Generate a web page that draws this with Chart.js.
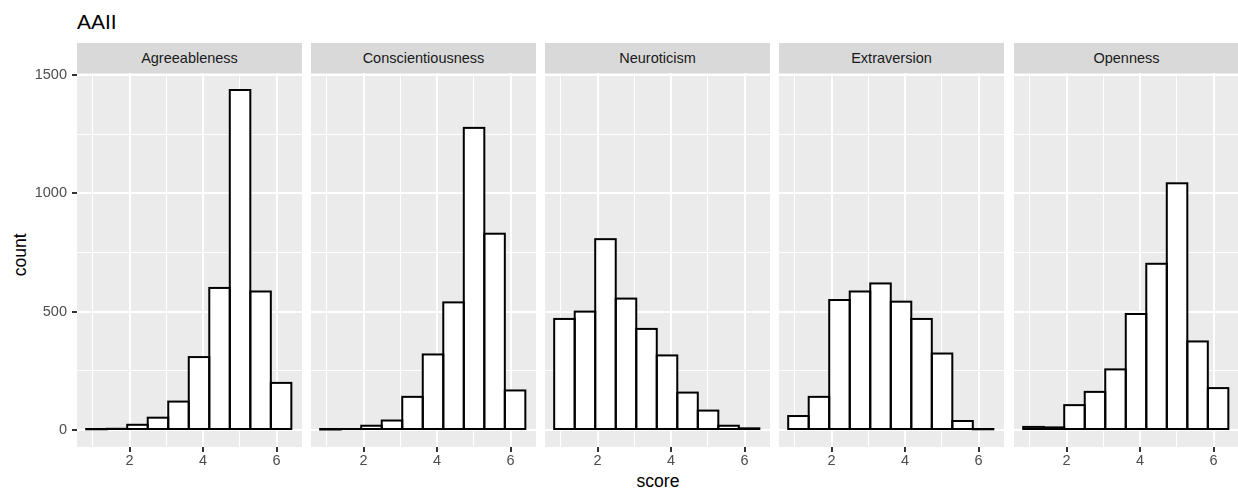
<!DOCTYPE html>
<html>
<head>
<meta charset="utf-8">
<script src="https://cdn.jsdelivr.net/npm/chart.js@4.4.1/dist/chart.umd.min.js"></script>
<style>
  html, body { margin: 0; padding: 0; background: #FFFFFF; }
  body { position: relative; width: 1238px; height: 495px; overflow: hidden; font-family: 'Liberation Sans', Arial, sans-serif; }
  .abs { position: absolute; }
  .title { left: 77px; top: 10.6px; font-size: 21px; line-height: 1; color: #000000; }
  .strip { top: 43px; height: 30px; line-height: 30px; background: #D9D9D9; color: #1A1A1A; font-size: 14.5px; text-align: center; }
  .xtitle { left: 77px; width: 1162px; top: 473.4px; font-size: 17.6px; line-height: 1; text-align: center; color: #000000; }
  .ytitle { left: -79.4px; top: 246.2px; width: 200px; height: 17.6px; font-size: 17.6px; line-height: 1; text-align: center; color: #000000; transform: rotate(-90deg); }
  canvas { position: absolute; top: 43px; }
</style>
</head>
<body>
<div class="abs title">AAII</div>
<div class="abs xtitle">score</div>
<div class="abs ytitle">count</div>
<div id="panels"></div>
<script>
// 데이터
const traits = ['Agreeableness', 'Conscientiousness', 'Neuroticism', 'Extraversion', 'Openness'];
const binCenters = [1.099, 1.657, 2.215, 2.773, 3.331, 3.889, 4.447, 5.005, 5.563, 6.121];

const agreeableness = [3, 5, 22, 52, 120, 308, 600, 1436, 585, 199];
const conscientiousness = [2, 4, 18, 40, 140, 319, 539, 1276, 829, 167];
const neuroticism = [469, 500, 806, 555, 427, 315, 158, 82, 18, 7];
const extraversion = [59, 140, 549, 585, 619, 542, 469, 323, 38, 3];
const openness = [13, 11, 105, 161, 256, 490, 702, 1042, 374, 177];
const seriesCounts = [agreeableness, conscientiousness, neuroticism, extraversion, openness];

const xMajorTicks = [2, 4, 6];
const xMinorTicks = [1, 3, 5];
const yMajorTicks = [0, 500, 1000, 1500];
const yMinorTicks = [250, 750, 1250];

const panelLefts = [77, 311, 545, 779, 1014];
const panelWidth = 225;
const panelHeight = 374;
const stripHeight = 30;
const xAxisHeight = 30;
const yAxisWidth = 77;
const FONT = "'Liberation Sans', Arial, sans-serif";

const maxCount = Math.max(...seriesCounts.flat());
const yMin = -0.05 * maxCount;
const yMax = 1.05 * maxCount;
const xMin = 0.57;
const xMax = 6.69;

// 패널 배경
const panelBg = {
  id: 'panelBg',
  beforeDraw(chart) {
    const { ctx, chartArea: a } = chart;
    ctx.save();
    ctx.fillStyle = '#EBEBEB';
    ctx.fillRect(a.left, a.top, a.right - a.left, a.bottom - a.top);
    ctx.restore();
  },
};

// 막대 테두리: 막대 요소의 위치를 그대로 사용해 가장자리 중앙에 선을 그림 (ggplot 처럼)
const barOutline = {
  id: 'barOutline',
  afterDatasetsDraw(chart) {
    const { ctx } = chart;
    ctx.save();
    ctx.strokeStyle = '#000000';
    ctx.lineWidth = 2;
    chart.getDatasetMeta(0).data.forEach((bar) => {
      const { x, y, base, width } = bar.getProps(['x', 'y', 'base', 'width'], true);
      ctx.strokeRect(x - width / 2, y, width, base - y);
    });
    ctx.restore();
  },
};

const isMajor = (list, v) => list.includes(v);

function makePanel(i) {
  const first = i === 0;
  const canvas = document.createElement('canvas');
  const left = first ? 0 : panelLefts[i];
  const width = first ? yAxisWidth + panelWidth : panelWidth;
  canvas.width = width;
  canvas.height = stripHeight + panelHeight + xAxisHeight;
  canvas.style.left = left + 'px';

  const strip = document.createElement('div');
  strip.className = 'abs strip';
  strip.style.left = panelLefts[i] + 'px';
  strip.style.width = panelWidth + 'px';
  strip.textContent = traits[i];
  document.getElementById('panels').appendChild(strip);
  document.getElementById('panels').appendChild(canvas);

  const counts = seriesCounts[i];

  return new Chart(canvas, {
    type: 'bar',
    data: {
      datasets: [{
        data: binCenters.map((x, j) => ({ x: x, y: counts[j] })),
        backgroundColor: '#FFFFFF',
        borderWidth: 0,
        barPercentage: 1,
        categoryPercentage: 1,
      }],
    },
    options: {
      responsive: false,
      animation: false,
      layout: { padding: { top: stripHeight, left: 0, right: 0, bottom: 0 } },
      plugins: {
        legend: { display: false },
        tooltip: { enabled: false },
      },
      scales: {
        x: {
          type: 'linear',
          min: xMin,
          max: xMax,
          offset: false,
          afterBuildTicks: (s) => { s.ticks = xMinorTicks.concat(xMajorTicks).sort((a, b) => a - b).map((v) => ({ value: v })); },
          afterFit: (s) => { s.height = xAxisHeight; },
          border: { display: false },
          grid: {
            offset: false,
            color: '#FFFFFF',
            lineWidth: (ctx) => (ctx.tick && isMajor(xMajorTicks, ctx.tick.value) ? 2 : 1),
            tickColor: (ctx) => (ctx.tick && isMajor(xMajorTicks, ctx.tick.value) ? '#333333' : 'rgba(0,0,0,0)'),
            tickWidth: 2,
            tickLength: 5,
          },
          ticks: {
            autoSkip: false,
            maxRotation: 0,
            padding: 0,
            color: '#4D4D4D',
            font: { family: FONT, size: 14.5 },
            callback: (v) => (isMajor(xMajorTicks, v) ? String(v) : ''),
          },
        },
        y: {
          min: yMin,
          max: yMax,
          afterBuildTicks: (s) => { s.ticks = yMajorTicks.concat(yMinorTicks).sort((a, b) => a - b).map((v) => ({ value: v })); },
          afterFit: (s) => { s.width = first ? yAxisWidth : 0; },
          border: { display: false },
          grid: {
            color: '#FFFFFF',
            lineWidth: (ctx) => (ctx.tick && isMajor(yMajorTicks, ctx.tick.value) ? 2 : 1),
            tickColor: (ctx) => (ctx.tick && isMajor(yMajorTicks, ctx.tick.value) ? '#333333' : 'rgba(0,0,0,0)'),
            tickWidth: 2,
            tickLength: 5,
            drawTicks: first,
          },
          ticks: {
            display: first,
            autoSkip: false,
            padding: 5,
            color: '#4D4D4D',
            font: { family: FONT, size: 14.5 },
            callback: (v) => (isMajor(yMajorTicks, v) ? String(v) : ''),
          },
        },
      },
    },
    plugins: [panelBg, barOutline],
  });
}

traits.forEach((t, i) => makePanel(i));
</script>
</body>
</html>
